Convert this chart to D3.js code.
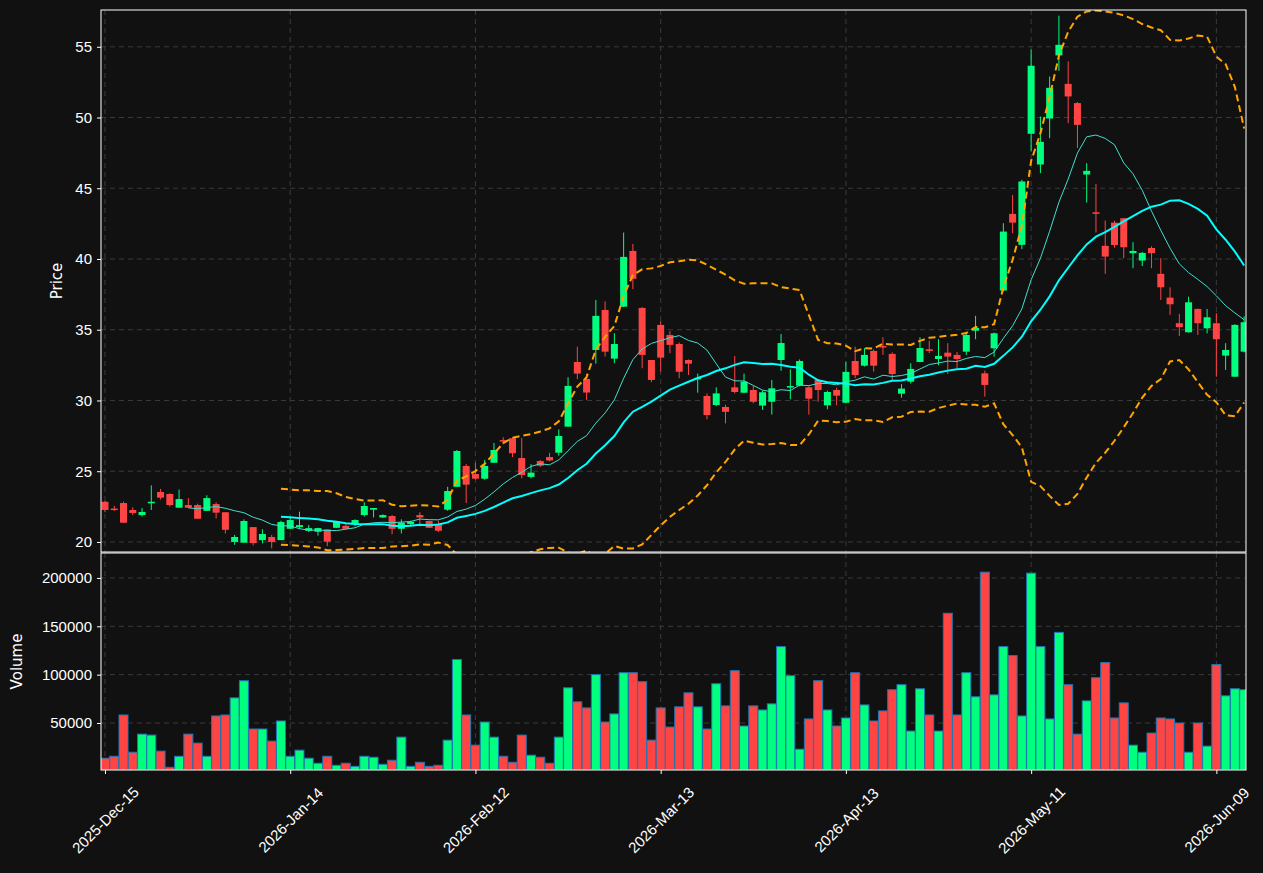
<!DOCTYPE html>
<html>
<head>
<meta charset="utf-8">
<script src="https://cdn.jsdelivr.net/npm/d3@7"></script>
<style>
  body { margin: 0; background: #111111; }
  svg { display: block; font-family: "DejaVu Sans", sans-serif; }
  .tick text { fill: #ffffff; font-size: 15px; }
  .tick line, .domain { stroke: #ffffff; }
  .grid line { stroke: #3a3a3a; stroke-dasharray: 5,4; }
</style>
</head>
<body>
<div id="chart"></div>
<script>
const tickLabels = ["2025-Dec-15", "2026-Jan-14", "2026-Feb-12", "2026-Mar-13", "2026-Apr-13", "2026-May-11", "2026-Jun-09"];
const tickIndex = [0, 20, 40, 60, 80, 100, 120];

const opens = [22.84,22.36,22.75,22.26,21.9,22.75,23.53,23.39,22.42,22.61,22.61,22.2,22.68,22.1,20.0,19.95,21.05,20.13,20.35,20.13,
  20.93,21.05,20.79,20.72,20.89,21.0,21.14,21.26,21.9,22.28,21.73,21.83,20.93,21.26,21.9,21.48,21.26,22.28,23.9,25.37,
  24.8,24.47,25.6,27.2,27.33,25.93,24.6,25.72,26.0,26.31,28.15,32.72,31.52,33.57,36.4,32.96,36.63,40.57,36.54,32.86,
  35.34,34.63,33.99,32.86,31.5,30.32,29.68,29.54,30.93,30.55,30.74,29.64,29.91,32.86,30.95,31.05,30.93,31.45,29.66,30.74,
  29.84,32.79,32.46,33.5,33.85,33.29,30.48,31.33,32.72,33.62,32.93,33.38,33.22,33.45,34.93,31.92,33.69,37.77,43.19,41.0,
  48.85,46.68,49.93,54.39,52.38,51.02,45.97,43.3,40.93,42.57,42.88,40.41,39.89,40.78,38.95,37.27,35.46,34.82,36.47,35.1,
  35.46,33.17,31.68,33.45];
const closes = [22.26,22.3,21.36,22.05,22.12,22.84,23.13,22.61,23.03,22.42,21.64,23.1,22.07,20.86,20.35,21.48,19.92,20.56,20.0,21.41,
  21.55,21.19,20.98,20.98,20.02,21.41,20.93,21.55,22.54,22.4,21.9,20.93,21.36,21.43,21.73,21.0,20.79,23.6,26.43,24.05,
  24.47,25.37,26.5,27.1,26.27,24.73,24.9,25.39,25.76,27.49,31.03,31.9,30.56,35.98,33.45,33.99,40.15,38.6,33.22,31.45,
  33.03,33.93,32.03,32.6,31.6,28.97,30.5,29.2,30.6,31.33,29.91,30.58,30.86,34.06,31.02,32.79,30.13,30.74,30.6,30.34,
  32.02,31.8,33.22,32.46,33.75,31.87,30.84,32.23,33.71,33.5,33.15,33.1,32.93,34.63,35.13,31.1,34.75,41.94,42.57,45.48,
  53.66,48.28,52.1,55.14,51.49,49.48,46.23,43.2,40.17,40.99,40.83,40.57,40.43,40.41,38.0,36.8,35.18,36.94,35.46,35.88,
  34.33,33.57,35.34,35.53];
const highs = [22.9,22.55,22.85,22.45,22.4,24.0,23.75,23.45,23.7,23.1,22.7,23.3,22.8,22.1,20.5,21.6,21.05,20.9,20.5,21.5,
  21.7,22.14,21.2,21.0,20.9,21.45,21.25,21.6,22.8,22.4,21.95,21.9,21.6,21.5,22.1,21.5,21.5,23.9,26.5,25.5,
  25.6,25.8,27.0,27.4,27.4,27.35,25.5,25.8,26.3,27.96,31.64,33.8,31.9,37.1,37.0,34.75,41.87,41.07,36.6,32.86,
  35.6,34.9,34.1,32.9,31.9,30.5,30.93,29.7,33.15,31.9,31.03,30.7,31.45,34.7,32.2,32.9,31.0,31.5,30.7,30.9,
  32.74,33.8,33.7,33.6,34.47,33.4,31.15,32.63,34.47,34.23,34.33,34.05,33.43,34.7,35.98,32.11,34.8,42.53,44.53,45.6,
  54.8,50.07,52.9,57.2,53.96,51.1,46.77,45.31,42.72,42.7,42.9,41.19,40.5,40.9,40.06,38.0,36.12,37.34,36.5,36.47,
  36.17,34.05,35.4,35.95];
const lows = [22.1,22.2,21.36,21.9,21.8,22.26,23.0,22.5,22.4,22.4,21.64,22.2,21.66,20.6,19.8,19.95,19.75,19.9,19.55,20.13,
  20.9,20.9,20.7,20.45,19.7,21.0,20.9,21.1,21.8,21.73,21.7,20.54,20.6,21.2,21.1,21.0,20.7,22.2,23.9,22.75,
  24.4,24.4,25.6,26.9,26.0,24.5,24.5,25.3,25.7,26.1,28.15,31.5,30.04,32.6,33.1,32.63,36.6,37.87,32.28,31.3,
  32.04,33.34,31.57,31.8,30.55,28.67,29.6,28.38,30.5,30.5,29.8,29.33,29.0,32.1,30.08,31.0,29.0,29.91,29.38,29.66,
  29.8,31.57,32.4,32.04,33.22,31.45,30.2,31.2,32.7,33.34,32.49,31.87,32.28,33.22,34.33,30.27,33.1,37.7,41.83,40.7,
  47.6,46.07,48.54,53.3,49.6,47.84,43.99,41.87,38.95,40.8,40.06,39.35,39.5,39.35,37.1,36.05,34.56,34.8,34.63,34.75,
  31.68,32.16,31.68,33.4];
const volumes = [13600,15600,58300,19800,38500,37500,20900,4200,15600,38500,29200,15600,57300,58300,76000,93700,43800,43800,31300,52100,
  15600,21900,13600,8400,15600,6300,8400,5200,15600,14600,7300,11500,35400,5200,9400,5200,6300,32300,115600,58300,
  27100,51000,35400,15600,9400,37500,16700,14600,8400,35400,86400,71900,65600,100000,51000,59400,102000,102000,92700,32300,
  65600,45800,66700,81200,66700,43800,90600,67700,104100,46900,67700,63500,69800,129000,98900,22900,54200,93700,63500,46900,
  55200,102000,68700,52100,62500,84400,89600,41700,85400,58300,41700,163500,58300,102000,77100,206000,79100,129000,119700,57300,
  205000,129000,54200,143700,89600,38500,72900,96800,112500,55200,70800,27100,19800,39600,55200,54200,50000,19800,50000,26100,
  110400,78100,85400,84400];

const priceTicks = [20, 25, 30, 35, 40, 45, 50, 55];
const volumeTicks = [50000, 100000, 150000, 200000];

const W = 1263, H = 873;
const left = 101, right = 1246;
const pTop = 10, pBot = 552, vTop = 553, vBot = 770;
const UP = "#00ff7f", DOWN = "#ff4444";

const svg = d3.select("#chart").append("svg").attr("width", W).attr("height", H);

const x = d3.scaleLinear().domain([-0.43, 123.2]).range([left, right]);
const yP = d3.scaleLinear().domain([19.29, 57.6]).range([pBot, pTop]);
const yV = d3.scaleLinear().domain([1400, 225800]).range([vBot, vTop]);

const defs = svg.append("defs");
defs.append("clipPath").attr("id", "clipP").append("rect")
  .attr("x", left).attr("y", pTop).attr("width", right - left).attr("height", pBot - pTop);
defs.append("clipPath").attr("id", "clipV").append("rect")
  .attr("x", left).attr("y", vTop).attr("width", right - left).attr("height", vBot - vTop);

const data = opens.map((o, i) => ({ i, o, c: closes[i], h: highs[i], l: lows[i], v: volumes[i] }));

// grids
function grid(y, ticks, top, bot) {
  const g = svg.append("g").attr("class", "grid");
  g.selectAll(".h").data(ticks).enter().append("line")
    .attr("x1", left).attr("x2", right).attr("y1", d => y(d)).attr("y2", d => y(d));
  g.selectAll(".v").data(tickIndex).enter().append("line")
    .attr("x1", d => x(d)).attr("x2", d => x(d)).attr("y1", top).attr("y2", bot);
}
grid(yP, priceTicks, pTop, pBot);
grid(yV, volumeTicks, vTop, vBot);

// moving averages and bands
function sma(n) {
  return closes.map((_, i) => i < n - 1 ? null : d3.mean(closes.slice(i - n + 1, i + 1)));
}
const ma10 = sma(10), ma20 = sma(20);
const upper = [], lower = [];
closes.forEach((_, i) => {
  if (i < 19) { upper.push(null); lower.push(null); return; }
  const win = closes.slice(i - 19, i + 1);
  const m = d3.mean(win);
  const sd = Math.sqrt(d3.mean(win.map(v => (v - m) ** 2)));
  upper.push(m + 2 * sd); lower.push(m - 2 * sd);
});

const pG = svg.append("g").attr("clip-path", "url(#clipP)");

// candles
const cw = 7;
pG.selectAll(".wick").data(data).enter().append("line")
  .attr("x1", d => x(d.i)).attr("x2", d => x(d.i))
  .attr("y1", d => yP(d.h)).attr("y2", d => yP(d.l))
  .attr("stroke", d => d.c >= d.o ? UP : DOWN).attr("stroke-width", 1);
pG.selectAll(".body").data(data).enter().append("rect")
  .attr("x", d => x(d.i) - cw / 2).attr("width", cw)
  .attr("y", d => yP(Math.max(d.o, d.c)))
  .attr("height", d => Math.max(1.5, Math.abs(yP(d.o) - yP(d.c))))
  .attr("fill", d => d.c >= d.o ? UP : DOWN);

const line = d3.line().defined(d => d != null).x((d, i) => x(i)).y(d => yP(d));
pG.append("path").attr("d", line(ma10)).attr("fill", "none").attr("stroke", "#40e0d0").attr("stroke-width", 1);
pG.append("path").attr("d", line(ma20)).attr("fill", "none").attr("stroke", "#00ffff").attr("stroke-width", 2);
[upper, lower].forEach(b => pG.append("path").attr("d", line(b)).attr("fill", "none")
  .attr("stroke", "#ffa500").attr("stroke-width", 2).attr("stroke-dasharray", "7,4"));

// volume
const vG = svg.append("g").attr("clip-path", "url(#clipV)");
vG.selectAll(".vol").data(data).enter().append("rect")
  .attr("x", d => x(d.i) - 4.5).attr("width", 9)
  .attr("y", d => yV(d.v)).attr("height", d => vBot - yV(d.v))
  .attr("fill", d => d.c >= d.o ? UP : DOWN)
  .attr("stroke", "#1f77b4").attr("stroke-width", 1);

// frames
[[pTop, pBot], [vTop, vBot]].forEach(([t, b]) => svg.append("rect")
  .attr("x", left).attr("y", t).attr("width", right - left).attr("height", b - t)
  .attr("fill", "none").attr("stroke", "#ffffff").attr("stroke-width", 1));

// axes
svg.append("g").attr("transform", `translate(${left},0)`)
  .call(d3.axisLeft(yP).tickValues(priceTicks).tickSize(4).tickPadding(5))
  .call(g => g.select(".domain").remove());
svg.append("g").attr("transform", `translate(${left},0)`)
  .call(d3.axisLeft(yV).tickValues(volumeTicks).tickFormat(d3.format("d")).tickSize(4).tickPadding(5))
  .call(g => g.select(".domain").remove());
const xa = svg.append("g").attr("transform", `translate(0,${vBot})`)
  .call(d3.axisBottom(x).tickValues(tickIndex).tickFormat((d, k) => tickLabels[k]).tickSize(4))
  .call(g => g.select(".domain").remove());
xa.selectAll("text").attr("text-anchor", "middle").attr("x", 0).attr("y", 0).attr("dy", "0.35em")
  .attr("transform", "translate(0,50) rotate(-45)");

svg.append("text").attr("transform", `translate(62,${(pTop + pBot) / 2}) rotate(-90)`)
  .attr("text-anchor", "middle").attr("fill", "#fff").attr("font-size", 15).text("Price");
svg.append("text").attr("transform", `translate(22,${(vTop + vBot) / 2}) rotate(-90)`)
  .attr("text-anchor", "middle").attr("fill", "#fff").attr("font-size", 15).text("Volume");
</script>
</body>
</html>
